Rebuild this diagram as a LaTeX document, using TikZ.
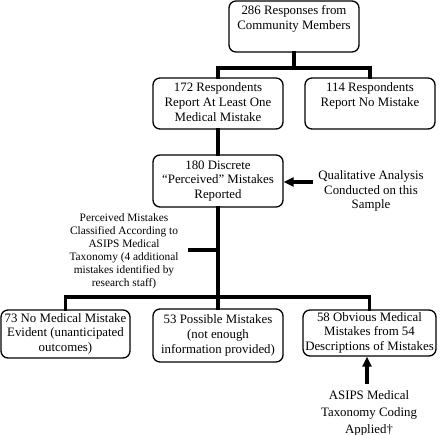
\documentclass[tikz,border=0pt]{standalone}
\usepackage{fontspec}
\setmainfont{Liberation Serif}
\usetikzlibrary{arrows.meta}
\newcommand{\boxfont}{\fontsize{12.9}{14.7}\selectfont}
\newcommand{\smallfont}{\fontsize{11.4}{13}\selectfont}
\tikzset{
  box/.style={draw=black, line width=1.3bp, rounded corners=7bp, inner sep=0pt,
    align=center, font=\boxfont, minimum width=130bp},
  conn/.style={line width=3.2bp, line join=miter, line cap=rect},
  arr/.style={line width=3.6bp, -{Triangle[length=10bp,width=9bp]}},
  lab/.style={align=center, inner sep=0pt}
}
\begin{document}
\begin{tikzpicture}[x=1bp,y=-1bp]
\useasboundingbox[fill=white] (0,0) rectangle (440,435);
% boxes
\node[box, minimum height=51bp] (b1) at (294,26.5) {\strut 286 Responses from\\Community Members\\\strut};
\node[box, minimum height=51bp] (b2) at (218,103.5) {\strut 172 Respondents\\Report At Least One\\Medical Mistake\strut};
\node[box, minimum height=51bp] (b3) at (370,103.5) {\strut 114 Respondents\\Report No Mistake\\\strut};
\node[box, minimum height=52bp] (b4) at (218,181) {\strut 180 Discrete\\“Perceived” Mistakes\\Reported\strut};
\node[box, minimum width=129bp, minimum height=48bp] (b5) at (65.5,334) {\strut 73 No Medical Mistake\\Evident (unanticipated\\outcomes)\strut};
\node[box, minimum height=53bp] (b6) at (218,335.5) {\strut 53 Possible Mistakes\\(not enough\\information provided)\strut};
\node[box, minimum width=133bp, minimum height=46bp] (b7) at (369.5,333) {\strut 58 Obvious Medical\\Mistakes from 54\\Descriptions of Mistakes\strut};
% labels
\node[lab, font=\boxfont] (qa) at (371,191) {Qualitative Analysis\\Conducted on this\\Sample};
\node[lab, font=\smallfont] (pm) at (124,251) {Perceived Mistakes\\Classified According to\\ASIPS Medical\\Taxonomy (4 additional\\mistakes identified by\\research staff)};
\node[lab, font=\fontsize{12.9}{17}\selectfont] (as) at (369,413) {ASIPS Medical\\Taxonomy Coding\\Applied†};
% junctions
\coordinate (j1) at (294,68);
\coordinate (j2) at (218,297);
\coordinate (tk) at (190,250);
\coordinate (qs) at (313,182);
\coordinate (as0) at (367,384);
% connectors
\draw[conn] (b1.south) -- (j1);
\draw[conn] (b2.north) |- (j1) -| (b3.north);
\draw[conn] (b2.south) -- (b4.north);
\draw[conn] (b4.south) -- (j2);
\draw[conn] (b5.north) |- (j2) -| (b7.north);
\draw[conn] (j2) -- (b6.north);
\draw[conn] (tk) -- (tk -| b4.south);
\draw[arr] (qs) -- (qs -| b4.east);
\draw[arr] (as0) -- (as0 |- b7.south);
\end{tikzpicture}
\end{document}
